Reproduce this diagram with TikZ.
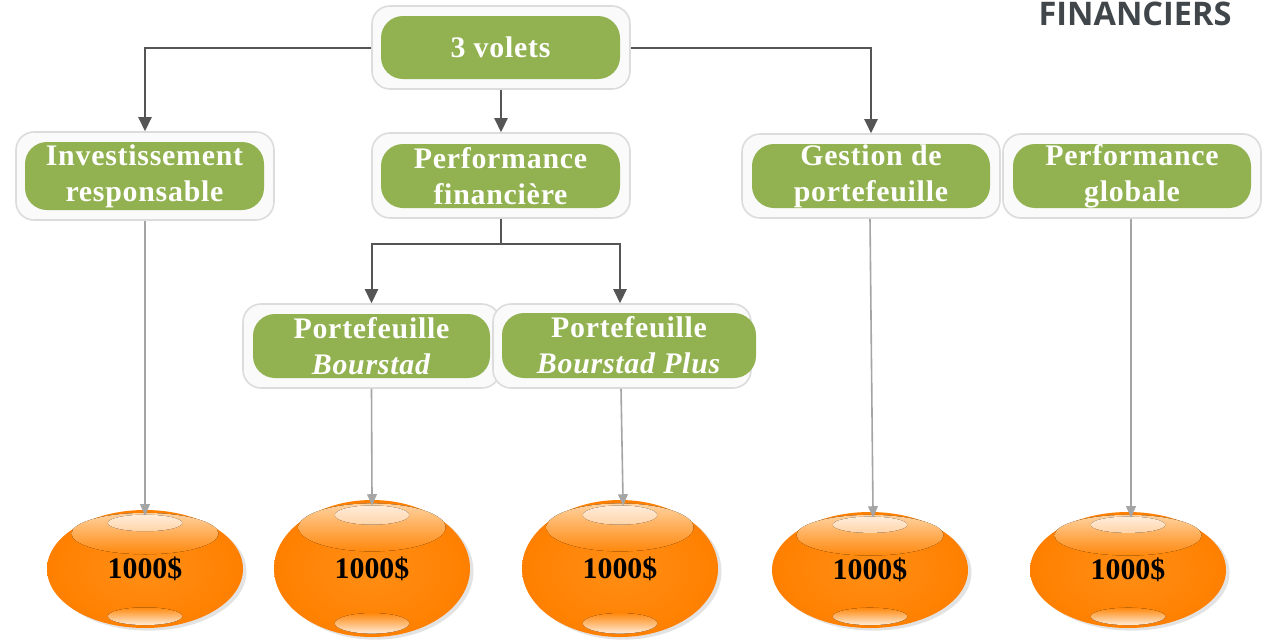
\documentclass[tikz,border=0pt]{standalone}
\usepackage{fontspec}
\setmainfont{Liberation Serif}
\newfontfamily\boxfont[LetterSpace=2.5]{Liberation Serif}
\newfontfamily\titlefont{Open Sans}
\usetikzlibrary{shapes.geometric,arrows.meta,shadows}
\definecolor{boxgreen}{RGB}{146,177,80}
\definecolor{outline}{RGB}{220,220,220}
\definecolor{outfill}{RGB}{250,250,250}
\definecolor{darkline}{RGB}{85,85,85}
\definecolor{greyline}{RGB}{165,165,165}
\definecolor{orb}{RGB}{255,128,0}
\definecolor{orbin}{RGB}{255,142,22}
\definecolor{bandtop}{RGB}{255,210,160}
\definecolor{bandbot}{RGB}{255,136,12}
\definecolor{hltop}{RGB}{255,236,218}
\definecolor{hlbot}{RGB}{255,212,168}
\definecolor{titlegray}{RGB}{64,70,74}
\newcommand\PX{0.02cm}
\newcommand\orbhl[4]{%
  \fill[top color=bandtop, bottom color=bandbot] ({#1},{#2-0.6*#4}) ellipse [x radius={0.75*#3}, y radius={0.35*#4}];
  \fill[top color=hltop, bottom color=hlbot] ({#1},{#2-0.78*#4}) ellipse [x radius={0.38*#3}, y radius={0.14*#4}];
  \fill[top color=bandbot, bottom color=hltop] ({#1},{#2+0.8*#4}) ellipse [x radius={0.38*#3}, y radius={0.15*#4}];
}
\tikzset{
  outerbox/.style={rectangle, rounded corners=18*\PX, draw=outline, fill=outfill, line width=1.6*\PX, inner sep=0pt},
  greenbox/.style={rectangle, rounded corners=22*\PX, fill=boxgreen, text=white, font=\boxfont\bfseries\fontsize{17}{20.5}\selectfont, align=center, inner sep=0pt},
  darkarrow/.style={draw=darkline, line width=2*\PX, -{Triangle[width=7.5pt,length=8pt]}},
  greyarrow/.style={draw=greyline, line width=1.6*\PX, -{Triangle[width=5.5pt,length=6.5pt]}, shorten >={-6*\PX}},
  orbnode/.style={ellipse, inner sep=0pt, inner color=orbin, outer color=orb, font=\bfseries\fontsize{17}{18}\selectfont, text=black, drop shadow={shadow xshift=2pt, shadow yshift=-1.5pt, opacity=0.22}}
}
\begin{document}
\begin{tikzpicture}[x=0.02cm, y=-0.02cm]
\useasboundingbox (0,0) rectangle (1263,639);
\fill[white] (0,0) rectangle (1263,639);

\node[anchor=base, font=\titlefont\bfseries\fontsize{18.5}{20}\selectfont, text=titlegray] (title) at (1135,25) {FINANCIERS};

% outer boxes
\node[outerbox, minimum width=258*\PX, minimum height=83*\PX] (vol) at (501,47.5) {};
\node[outerbox, minimum width=258*\PX, minimum height=88*\PX] (inv) at (145,176) {};
\node[outerbox, minimum width=258*\PX, minimum height=85*\PX] (pf) at (501,175.5) {};
\node[outerbox, minimum width=258*\PX, minimum height=84*\PX] (gp) at (871,176) {};
\node[outerbox, minimum width=258*\PX, minimum height=84*\PX] (pg) at (1132,176) {};
\node[outerbox, minimum width=257*\PX, minimum height=84*\PX] (pb) at (371.5,346) {};
\node[outerbox, minimum width=258*\PX, minimum height=84*\PX] (pbp) at (622,346) {};

% green boxes
\node[greenbox, minimum width=239*\PX, minimum height=63*\PX] (volg) at (500.5,47.5) {3 volets};
\node[greenbox, minimum width=239*\PX, minimum height=68*\PX] (invg) at (144.5,176) {Investissement\\responsable};
\node[greenbox, minimum width=239*\PX, minimum height=64*\PX] (pfg) at (500.5,176) {Performance\\financière};
\node[greenbox, minimum width=238*\PX, minimum height=64*\PX] (gpg) at (871,176) {Gestion de\\portefeuille};
\node[greenbox, minimum width=238*\PX, minimum height=64*\PX] (pgg) at (1132,176) {Performance\\globale};
\node[greenbox, minimum width=237*\PX, minimum height=64*\PX] (pbg) at (371.5,346) {Portefeuille\\\textit{Bourstad}};
\node[greenbox, minimum width=254*\PX, minimum height=65*\PX] (pbpg) at (629,345.5) {Portefeuille\\\textit{Bourstad Plus}};

% dark connectors
\draw[darkarrow] (vol.west) -| (inv.north);
\draw[darkarrow] (vol.east) -| (gp.north);
\draw[darkarrow] (vol.south) -- (pf.north);
\coordinate (j) at ([yshift=-25*\PX]pf.south);
\draw[draw=darkline, line width=2*\PX] (pf.south) -- (j);
\draw[darkarrow] (j) -| (pb.north);
\draw[darkarrow] (j) -| ([xshift=-2*\PX]pbp.north);

% orbs
\node[orbnode, minimum width=196*\PX, minimum height=118*\PX] (e1) at (145,569) {1000\$};
\node[orbnode, minimum width=196*\PX, minimum height=137*\PX] (e2) at (372,568.5) {1000\$};
\node[orbnode, minimum width=196*\PX, minimum height=137*\PX] (e3) at (620,568.5) {1000\$};
\node[orbnode, minimum width=196*\PX, minimum height=116*\PX] (e4) at (870,570) {1000\$};
\node[orbnode, minimum width=196*\PX, minimum height=116*\PX] (e5) at (1128,570) {1000\$};
\orbhl{145}{569}{98}{59}
\orbhl{372}{568.5}{98}{68.5}
\orbhl{620}{568.5}{98}{68.5}
\orbhl{870}{570}{98}{58}
\orbhl{1128}{570}{98}{58}

% grey connectors
\draw[greyarrow] (inv.south) -- (e1.north);
\draw[greyarrow] (pb.south) -- (e2.north);
\draw[greyarrow] ([xshift=-1*\PX]pbp.south) -- ([xshift=3*\PX]e3.north);
\draw[greyarrow] ([xshift=-1*\PX]gp.south) -- ([xshift=3*\PX]e4.north);
\draw[greyarrow] ([xshift=-1*\PX]pg.south) -- ([xshift=3*\PX]e5.north);
\end{tikzpicture}
\end{document}
